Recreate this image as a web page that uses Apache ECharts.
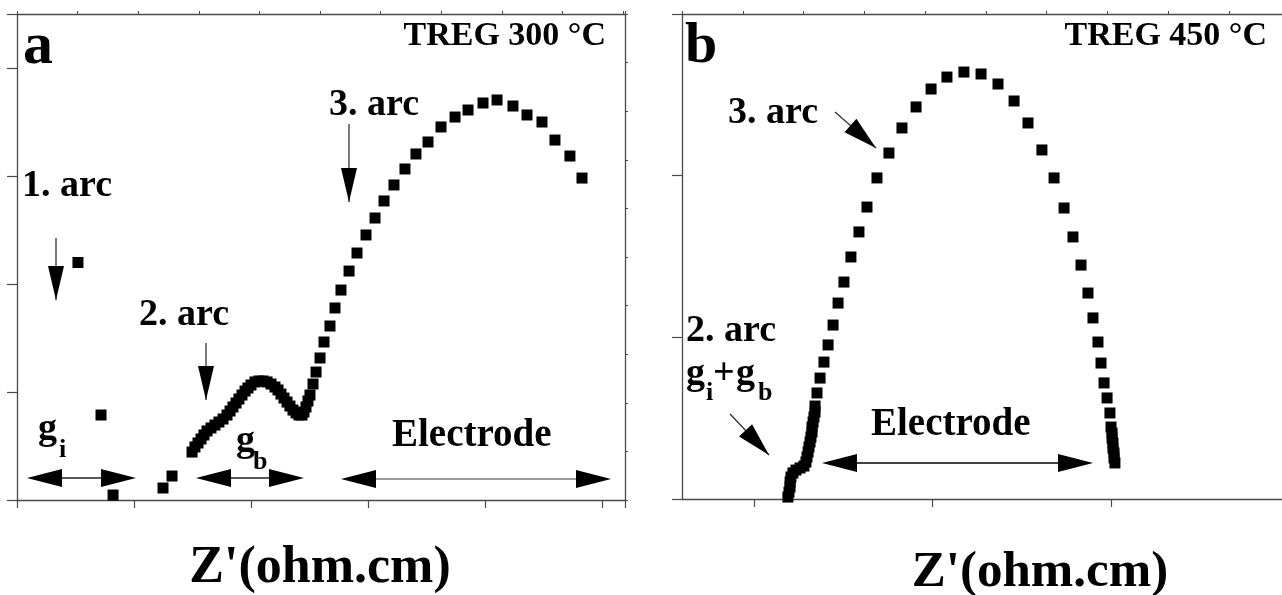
<!DOCTYPE html>
<html><head><meta charset="utf-8">
<script src="https://cdn.jsdelivr.net/npm/echarts@6/dist/echarts.min.js"></script>
<style>html,body{margin:0;padding:0;background:#fff}#c{width:1282px;height:595px}</style>
</head><body><div id="c"></div>
<script>
// ---- Data (arbitrary Z units: one bottom tick = 1 unit) ----
// Panel a: TREG 300 °C
const aZre = [0.521,0.718,0.821,1.248,1.325,
  1.496,1.521,1.547,1.573,1.598,1.624,1.658,1.692,1.726,1.761,1.795,1.821,1.846,1.872,1.897,1.923,1.949,1.974,2.000,2.034,2.068,2.103,2.137,2.171,2.205,2.231,2.256,2.282,2.308,2.333,2.359,2.385,2.410,2.436,2.453,2.470,2.487,2.504,
  2.530,2.556,2.590,2.624,2.675,2.718,2.769,2.838,2.906,2.983,3.060,3.137,3.222,3.316,3.410,3.513,3.624,3.744,3.855,3.983,4.103,4.239,4.359,4.487,4.598,4.726,4.829];
const aZim = [2.199,0.787,0.046,0.111,0.222,
  0.444,0.491,0.528,0.565,0.602,0.639,0.667,0.694,0.722,0.750,0.787,0.824,0.861,0.898,0.935,0.972,1.009,1.037,1.065,1.093,1.102,1.102,1.093,1.074,1.046,1.019,0.981,0.944,0.907,0.870,0.833,0.806,0.787,0.787,0.815,0.861,0.917,0.972,
  1.074,1.185,1.315,1.463,1.611,1.778,1.944,2.120,2.287,2.454,2.611,2.769,2.917,3.065,3.204,3.315,3.454,3.546,3.611,3.676,3.704,3.648,3.565,3.500,3.333,3.185,2.981];
// Panel b: TREG 450 °C
const bZre = [1.190,1.196,1.202,1.202,1.207,1.218,1.235,1.258,1.280,1.291,1.297,1.303,1.308,1.314,1.319,1.325,1.325,1.331,1.336,1.342,
  1.342,1.353,1.370,1.392,1.415,1.443,1.471,1.504,1.543,1.588,1.633,1.689,1.756,1.829,1.908,1.992,2.081,2.176,2.272,2.367,2.457,2.535,2.613,2.681,2.737,2.787,2.832,2.871,2.899,2.927,2.944,2.961,2.978,2.994,3.000,3.006,3.006,3.011,3.011,3.017,3.017,3.022];
const bZim = [0.012,0.043,0.074,0.105,0.136,0.161,0.179,0.192,0.204,0.229,0.260,0.291,0.322,0.353,0.383,0.414,0.445,0.476,0.507,0.538,
  0.575,0.656,0.748,0.847,0.953,1.076,1.212,1.342,1.497,1.652,1.806,1.986,2.140,2.295,2.425,2.536,2.610,2.641,2.629,2.567,2.462,2.326,2.159,1.986,1.800,1.621,1.447,1.274,1.120,0.971,0.841,0.718,0.625,0.532,0.445,0.408,0.377,0.346,0.315,0.285,0.254,0.223];
const bBottomTicks = [1, 2, 3];
const panelTitles = ['TREG 300 °C', 'TREG 450 °C'];
const panelLetters = ['a', 'b'];
const xTitle = "Z'(ohm.cm)";

// ---- Chart ----
const FONT = '"Liberation Serif","Times New Roman",serif';
const AX = '#4a4a4a';
function axisBase(extra) {
  return Object.assign({
    type: 'value', splitLine: {show: false}, axisLabel: {show: false},
    axisLine: {show: true, onZero: false, lineStyle: {color: AX, width: 1.3}},
    axisTick: {show: true, inside: false, length: 8, lineStyle: {color: AX, width: 1.2}}
  }, extra);
}
function txt(s, x, baseline, size, align) {
  return {type: 'text', x: x, y: baseline - 0.34 * size, z: 10,
    style: {text: s, font: 'bold ' + size + 'px ' + FONT, fill: '#000',
      textAlign: align || 'left', align: align || 'left', textVerticalAlign: 'middle', verticalAlign: 'middle'}};
}
function head(x1, y1, x2, y2, len, hw, color) {
  const d = Math.hypot(x2 - x1, y2 - y1), ux = (x2 - x1) / d, uy = (y2 - y1) / d;
  const bx = x2 - ux * len, by = y2 - uy * len;
  return {type: 'polygon', z: 10, shape: {points: [[x2, y2], [bx - uy * hw, by + ux * hw], [bx + uy * hw, by - ux * hw]]},
    style: {fill: color || '#000'}};
}
function line(x1, y1, x2, y2, color) {
  return {type: 'line', z: 9, shape: {x1, y1, x2, y2}, style: {stroke: color || '#222', lineWidth: 1.3}};
}
function single(x1, y1, x2, y2, len, hw) {
  return [line(x1, y1, x2, y2, '#333'), head(x1, y1, x2, y2, len || 34, hw || 8)];
}
function dbl(xa, xb, y, lineColor) {
  return [line(xa + 20, y, xb - 20, y, lineColor), head(xb, y, xa, y, 35, 9), head(xa, y, xb, y, 35, 9)];
}

const graphics = [].concat(
  txt(panelLetters[0], 23, 68, 60),
  txt(panelTitles[0], 606, 48, 34, 'right'),
  txt('3. arc', 329, 118, 38),
  txt('1. arc', 22, 199, 38),
  txt('2. arc', 139, 328, 38),
  txt('g', 38, 442, 38), txt('i', 59, 459, 26),
  txt('g', 236, 454, 38), txt('b', 253, 471, 26),
  txt('Electrode', 392, 449, 39),
  txt(xTitle, 320, 586, 52, 'center'),
  dbl(27, 136, 478, '#222'), dbl(196, 304, 478, '#222'), dbl(341, 611, 479, '#777'),
  single(56, 238, 56, 300), single(206, 343, 206, 400), single(349, 124, 349, 202),
  txt(panelLetters[1], 685, 67, 58),
  txt(panelTitles[1], 1267, 48, 34, 'right'),
  txt('3. arc', 728, 126, 38),
  txt('2. arc', 686, 344, 38),
  txt('g', 686, 387, 38), txt('i', 706, 402, 26), txt('+', 713, 387, 38), txt('g', 736, 387, 38), txt('b', 758, 402, 26),
  txt('Electrode', 871, 438, 39),
  txt(xTitle, 1040, 590, 51, 'center'),
  single(835, 112, 876, 148, 34, 9), single(730, 414, 769, 455, 34, 9),
  dbl(822, 1093, 463, '#000')
);

const bMin = 1 - 72 / 178.5;
const chart = echarts.init(document.getElementById('c'), null, {renderer: 'canvas'});
chart.setOption({
  animation: false,
  backgroundColor: '#fff',
  grid: [
    {left: 17, top: 14, width: 608, height: 486, containLabel: false, outerBoundsMode: 'none'},
    {left: 682, top: 14, width: 600, height: 485, containLabel: false, outerBoundsMode: 'none'}
  ],
  xAxis: [
    axisBase({gridIndex: 0, position: 'bottom', min: 0, max: 608 / 117, interval: 1}),
    axisBase({gridIndex: 0, position: 'top', min: 0, max: 608 / 60.6, interval: 1, axisTick: {show: true, length: 3, lineStyle: {color: AX}}}),
    axisBase({gridIndex: 1, position: 'bottom', min: bMin, max: bMin + 600 / 178.5,
      axisTick: {show: true, length: 8, customValues: bBottomTicks, lineStyle: {color: AX, width: 1.2}}}),
    axisBase({gridIndex: 1, position: 'top', min: 0, max: 600 / 60.75, interval: 1, axisTick: {show: true, length: 3, lineStyle: {color: AX}}})
  ],
  yAxis: [
    axisBase({gridIndex: 0, position: 'left', min: 0, max: 4.5, interval: 1, axisTick: {show: true, length: 10, lineStyle: {color: AX, width: 1.2}}}),
    axisBase({gridIndex: 0, position: 'right', min: 0, max: 10, interval: 1, axisTick: {show: true, length: 3, lineStyle: {color: AX}}}),
    axisBase({gridIndex: 1, position: 'left', min: 0, max: 3, interval: 1, axisTick: {show: true, length: 10, lineStyle: {color: AX, width: 1.2}}})
  ],
  series: [
    {type: 'scatter', xAxisIndex: 0, yAxisIndex: 0, symbol: 'rect', symbolSize: 11, clip: false,
      itemStyle: {color: '#000', opacity: 1}, data: aZre.map((x, i) => [x, aZim[i]])},
    {type: 'scatter', xAxisIndex: 2, yAxisIndex: 2, symbol: 'rect', symbolSize: 11, clip: false,
      itemStyle: {color: '#000', opacity: 1}, data: bZre.map((x, i) => [x, bZim[i]])}
  ],
  graphic: graphics
});
</script></body></html>
